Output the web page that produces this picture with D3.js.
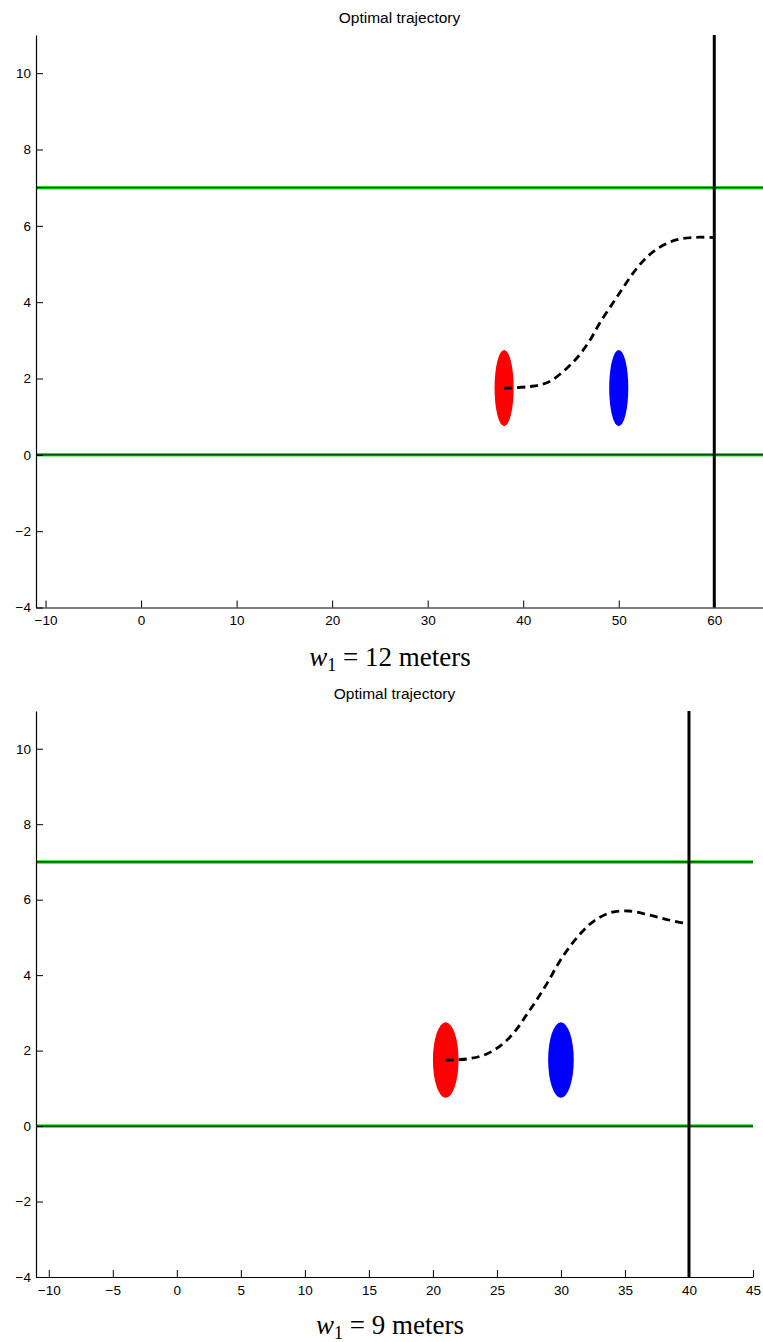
<!DOCTYPE html>
<html>
<head>
<meta charset="utf-8">
<script src="https://cdn.jsdelivr.net/npm/d3@7"></script>
<style>
  body { margin: 0; background: #fff; }
  svg { display: block; }
  .tick text { font-family: "Liberation Sans", Arial, sans-serif; font-size: 13.5px; fill: #000; }
  .title { font-family: "Liberation Sans", Arial, sans-serif; font-size: 15.5px; }
  .caption { font-family: "Liberation Serif", "DejaVu Serif", serif; font-size: 27px; }
</style>
</head>
<body>
<svg id="chart" width="763" height="1342"></svg>
<script>
// shared values
var yTicks = [-4, -2, 0, 2, 4, 6, 8, 10];
var laneLines = [0, 7];
var carY = 1.75;
var carRadius = 1;

// top panel (w1 = 12)
var topXTicks = [-10, 0, 10, 20, 30, 40, 50, 60];
var topRedX = 38, topBlueX = 50, topWallX = 60;
var topTrajX = [38, 40.7, 42.6, 44.4, 45.8, 47.0, 48.0, 49.1, 50.3, 51.5, 52.7, 54.1, 56.0, 58.1, 60];
var topTrajY = [1.75, 1.79, 1.90, 2.23, 2.59, 3.01, 3.45, 3.87, 4.32, 4.76, 5.12, 5.41, 5.63, 5.70, 5.69];

// bottom panel (w1 = 9)
var botXTicks = [-10, -5, 0, 5, 10, 15, 20, 25, 30, 35, 40, 45];
var botRedX = 21, botBlueX = 30, botWallX = 40;
var botTrajX = [21, 22.7, 24.2, 25.5, 26.5, 27.3, 28.1, 29.0, 29.8, 30.7, 31.6, 32.6, 33.9, 35.3, 36.8, 38.2, 39.6, 40];
var botTrajY = [1.75, 1.78, 1.91, 2.19, 2.55, 2.94, 3.34, 3.83, 4.31, 4.76, 5.13, 5.44, 5.66, 5.70, 5.60, 5.48, 5.38, 5.37];

var svg = d3.select("#chart");

function drawPanel(p) {
    var x = d3.scaleLinear().domain(p.xDomain).range([p.left, p.right]);
    var y = d3.scaleLinear().domain([-4, 11]).range([p.bottom, p.top]);
    var g = svg.append("g");

    g.append("text")
      .attr("class", "title")
      .attr("x", (p.left + p.right) / 2)
      .attr("y", p.top - 12)
      .attr("text-anchor", "middle")
      .text("Optimal trajectory");

    // lane lines: green with dark core
    laneLines.forEach(function(v) {
        g.append("line")
          .attr("x1", p.left).attr("x2", p.right)
          .attr("y1", y(v)).attr("y2", y(v))
          .attr("stroke", "#1fe01f").attr("stroke-width", 3.5);
        g.append("line")
          .attr("x1", p.left).attr("x2", p.right)
          .attr("y1", y(v)).attr("y2", y(v))
          .attr("stroke", "#0a2a0a").attr("stroke-width", 1.3);
    });

    var cars = [{x: p.redX, c: "#ff0000"}, {x: p.blueX, c: "#0000ff"}];
    g.selectAll("ellipse").data(cars).enter().append("ellipse")
      .attr("cx", function(d) { return x(d.x); })
      .attr("cy", y(carY))
      .attr("rx", x(carRadius) - x(0))
      .attr("ry", y(0) - y(carRadius))
      .attr("fill", function(d) { return d.c; });

    var pts = p.trajX.map(function(v, i) { return [v, p.trajY[i]]; });
    var line = d3.line()
      .x(function(d) { return x(d[0]); })
      .y(function(d) { return y(d[1]); })
      .curve(d3.curveCatmullRom);
    g.append("path")
      .attr("d", line(pts))
      .attr("fill", "none")
      .attr("stroke", "#000")
      .attr("stroke-width", 2.8)
      .attr("stroke-dasharray", "8,5");

    // wall
    g.append("line")
      .attr("x1", x(p.wallX)).attr("x2", x(p.wallX))
      .attr("y1", p.top).attr("y2", p.bottom)
      .attr("stroke", "#000").attr("stroke-width", 3);

    var xAxis = d3.axisBottom(x).tickValues(p.xTicks).tickSizeInner(-7).tickSizeOuter(0).tickPadding(8);
    var gx = g.append("g").attr("transform", "translate(0," + p.bottom + ")").call(xAxis);
    var yAxis = d3.axisLeft(y).tickValues(yTicks).tickSizeInner(-7).tickSizeOuter(0).tickPadding(5);
    var gy = g.append("g").attr("transform", "translate(" + p.left + ",0)").call(yAxis);
    [gx, gy].forEach(function(a) {
        a.select(".domain").attr("stroke", "#000").attr("stroke-width", 1.2);
        a.selectAll(".tick line").attr("stroke", "#000");
    });

    var cap = g.append("text")
      .attr("class", "caption")
      .attr("x", p.capX)
      .attr("y", p.capY)
      .attr("text-anchor", "middle");
    cap.append("tspan").attr("font-style", "italic").text("w");
    cap.append("tspan").attr("dy", 5).attr("font-size", "18px").text("1");
    cap.append("tspan").attr("dy", -5).text(" = " + p.w + " meters");
}

drawPanel({
    xDomain: [-11, 65.1], left: 36, right: 763, top: 35, bottom: 607.5,
    xTicks: topXTicks, redX: topRedX, blueX: topBlueX, wallX: topWallX,
    trajX: topTrajX, trajY: topTrajY, w: 12, capX: 390, capY: 666
});

drawPanel({
    xDomain: [-11, 45], left: 36, right: 753, top: 711, bottom: 1277,
    xTicks: botXTicks, redX: botRedX, blueX: botBlueX, wallX: botWallX,
    trajX: botTrajX, trajY: botTrajY, w: 9, capX: 390, capY: 1334
});
</script>
</body>
</html>
